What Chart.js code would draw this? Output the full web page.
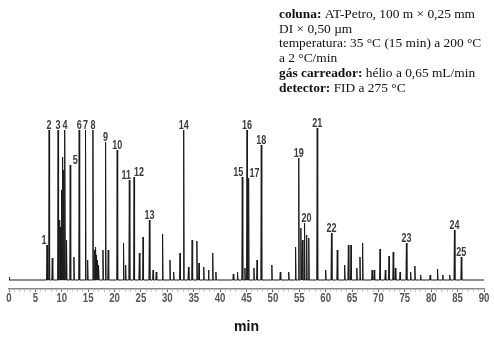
<!DOCTYPE html>
<html>
<head>
<meta charset="utf-8">
<script src="https://cdn.jsdelivr.net/npm/chart.js@4.4.1/dist/chart.umd.min.js"></script>
<style>
  body { margin: 0; background: #fff; }
  canvas { display: block; }
</style>
</head>
<body>
<canvas id="chromatogram" width="494" height="338"></canvas>
<script>
// numbered peaks: label, retention time (min), height (detector units)
const peakLabels = ['1','2','3','4','5','6','7','8','9','10','11','12','13','14','15','16','17','18','19','20','21','22','23','24','25'];
const peakTimes = [7.2, 7.6, 9.3, 10.6, 11.6, 13.3, 14.5, 15.9, 18.3, 20.5, 22.8, 23.7, 26.6, 33.1, 44.2, 45.1, 45.4, 47.8, 54.9, 56.0, 58.4, 61.1, 75.3, 84.4, 85.7];
const peakHeights = [35, 150, 150, 150, 115, 150, 150, 150, 138, 130, 100, 103, 60, 150, 103, 150, 102, 135, 122, 57, 152, 47, 37, 50, 23];

// unnumbered peaks
const minorTimes = [0, 8.2, 9.6, 9.8, 10.0, 10.2, 10.4, 10.9, 12.3, 14.9, 16.2, 16.4, 16.6, 16.8, 17.0, 17.8, 18.8, 21.7, 22.1, 24.7, 25.4, 27.3, 27.9, 29.1, 30.5, 31.2, 32.4, 34.0, 34.7, 35.6, 36.0, 36.9, 37.8, 38.6, 39.2, 42.5, 43.3, 44.7, 46.4, 47.0, 49.8, 51.4, 53.0, 54.3, 55.3, 55.6, 56.4, 56.8, 60.0, 62.2, 63.6, 64.3, 64.8, 65.9, 66.5, 67.0, 68.8, 69.2, 70.3, 71.3, 72.0, 72.8, 73.2, 74.1, 76.1, 76.9, 78.0, 79.8, 81.2, 82.2, 83.5];
const minorHeights = [3, 22, 60, 53, 90, 123, 110, 40, 23, 20, 30, 33, 25, 20, 15, 30, 30, 37, 15, 27, 43, 10, 8, 46, 20, 8, 27, 13, 40, 39, 17, 13, 10, 27, 8, 6, 8, 12, 12, 20, 15, 8, 8, 33, 52, 40, 45, 42, 10, 30, 15, 35, 35, 12, 23, 37, 10, 10, 31, 10, 24, 28, 12, 8, 8, 14, 5, 5, 11, 5, 5];

const xTicks = [0, 5, 10, 15, 20, 25, 30, 35, 40, 45, 50, 55, 60, 65, 70, 75, 80, 85, 90];

// small sideways shifts so crowded numbers don't collide
const labelShift = { '1': -3, '5': 5, '11': -3, '12': 5, '15': -4, '17': 6, '20': 2 };

const halfWidth = 0.09;

// each peak becomes a narrow spike: foot, apex, foot
let allPeaks = [];
peakTimes.forEach((t, i) => allPeaks.push([t, peakHeights[i]]));
minorTimes.forEach((t, i) => allPeaks.push([t, minorHeights[i]]));
allPeaks.sort((a, b) => a[0] - b[0]);

let trace = [{ x: 0, y: 0 }];
allPeaks.forEach(p => {
  trace.push({ x: Math.max(0, p[0] - halfWidth), y: 0 });
  trace.push({ x: p[0], y: p[1] });
  trace.push({ x: p[0] + halfWidth, y: 0 });
});
trace.push({ x: 90, y: 0 });

// narrow-looking digits: regular sans squeezed sideways
function narrowText(ctx, text, x, y, squeeze) {
  ctx.save();
  ctx.translate(x, y);
  ctx.scale(squeeze, 1);
  ctx.fillText(text, 0, 0);
  ctx.restore();
}

const peakNumbers = {
  id: 'peakNumbers',
  afterDatasetsDraw(chart) {
    const ctx = chart.ctx;
    const xs = chart.scales.x, ys = chart.scales.y;
    ctx.save();
    ctx.font = "bold 12px 'Liberation Sans', Arial, sans-serif";
    ctx.textAlign = 'center';
    ctx.textBaseline = 'alphabetic';
    peakLabels.forEach((lab, i) => {
      const px = xs.getPixelForValue(peakTimes[i]) + (labelShift[lab] || 0);
      const py = ys.getPixelForValue(peakHeights[i]) - 1;
      const w = ctx.measureText(lab).width * 0.75;
      ctx.fillStyle = '#fff';
      ctx.fillRect(px - w / 2, py - 9, w, 9);
      ctx.fillStyle = '#3a3a3a';
      narrowText(ctx, lab, px, py, 0.75);
    });

    // tick numbers along the time axis
    ctx.font = "bold 12px 'Liberation Sans', Arial, sans-serif";
    ctx.fillStyle = '#555';
    ctx.textBaseline = 'middle';
    xTicks.forEach(v => {
      narrowText(ctx, String(v), xs.getPixelForValue(v), xs.top + 10, 0.8);
    });
    ctx.restore();
  }
};

// run conditions, bold key then plain text
const conditions = [
  [['coluna: ', true], ['AT-Petro, 100 m × 0,25 mm', false]],
  [['DI × 0,50 µm', false]],
  [['temperatura: 35 °C (15 min) a 200 °C', false]],
  [['a 2 °C/min', false]],
  [['gás carreador: ', true], ['hélio a 0,65 mL/min', false]],
  [['detector: ', true], ['FID a 275 °C', false]]
];

const conditionsBox = {
  id: 'conditionsBox',
  afterDraw(chart) {
    const ctx = chart.ctx;
    ctx.save();
    ctx.fillStyle = '#111';
    ctx.textBaseline = 'alphabetic';
    conditions.forEach((line, i) => {
      let x = 279;
      const y = 18 + i * 14.7;
      line.forEach(run => {
        ctx.font = (run[1] ? 'bold ' : '') + "13.4px 'Liberation Serif', 'Times New Roman', serif";
        ctx.fillText(run[0], x, y);
        x += ctx.measureText(run[0]).width;
      });
    });
    ctx.restore();
  }
};

new Chart(document.getElementById('chromatogram'), {
  type: 'line',
  data: {
    datasets: [{
      data: trace,
      borderColor: '#1a1a1a',
      borderWidth: 1,
      pointRadius: 0,
      tension: 0,
      fill: false
    }]
  },
  options: {
    responsive: false,
    animation: false,
    layout: { padding: { top: 100, left: 9, right: 10, bottom: 0 } },
    plugins: { legend: { display: false }, tooltip: { enabled: false } },
    scales: {
      x: {
        type: 'linear',
        min: 0,
        max: 90,
        afterBuildTicks: axis => {
          axis.ticks = [];
          for (let v = 0; v <= 90; v++) axis.ticks.push({ value: v });
        },
        ticks: {
          autoSkip: false,
          maxRotation: 0,
          padding: 1,
          color: 'rgba(0,0,0,0)',
          font: { family: "'Liberation Sans', Arial", size: 11, weight: 'bold' },
          callback: v => xTicks.includes(v) ? String(v) : ''
        },
        grid: {
          drawOnChartArea: false,
          tickLength: 3,
          tickColor: c => xTicks.includes(c.tick.value) ? '#666' : '#c8c8c8'
        },
        border: { display: true, color: '#888', width: 1.5 },
        title: {
          display: true,
          text: 'min',
          color: '#111',
          font: { family: "'Liberation Sans', Arial", size: 14, weight: 'bold' },
          padding: { top: 12, bottom: 2 }
        }
      },
      y: {
        display: false,
        min: -9,
        max: 180
      }
    }
  },
  plugins: [peakNumbers, conditionsBox]
});
</script>
</body>
</html>
